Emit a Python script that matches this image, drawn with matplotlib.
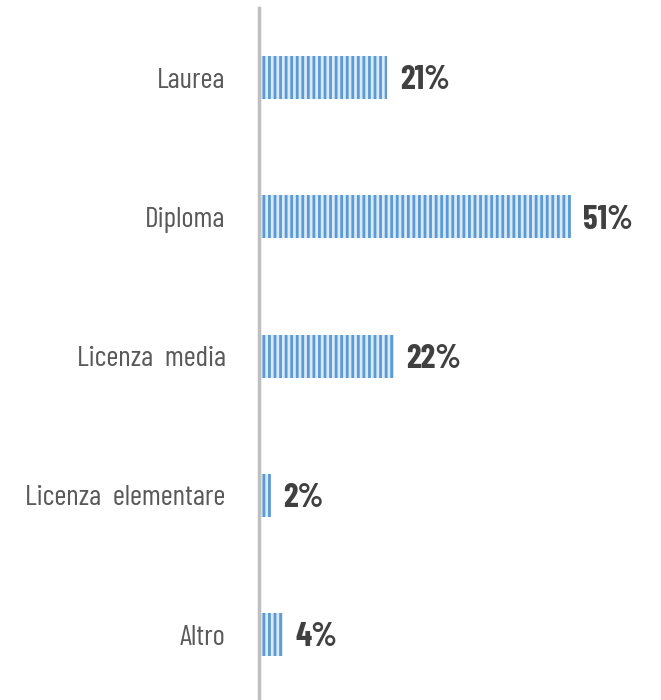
import matplotlib
matplotlib.use("Agg")
import matplotlib.pyplot as plt

categories = ["Laurea", "Diploma", "Licenza  media", "Licenza  elementare", "Altro"]
values = [21, 51, 22, 2, 4]

plt.rcParams['font.family'] = ['Barlow Condensed', 'Liberation Sans Narrow', 'DejaVu Sans']
plt.rcParams['hatch.linewidth'] = 2.0

fig = plt.figure(figsize=(6.61, 7), dpi=100)
ax = fig.add_axes([259 / 661, 0, 1 - 259 / 661, 1 - 8 / 700])

pos = list(range(len(categories)))
ax.barh(pos, values, height=0.31, color='#dbe9f6', edgecolor='#5b9bd5',
        linewidth=0, hatch='|||')

for p, v in zip(pos, values):
    ax.text(v + 2, p + 0.02, f"{v}%", va='center', ha='left', fontsize=24,
            fontweight='bold', color='#404040')

ax.set_xlim(0, 65.7)
ax.set_ylim(4.47, -0.5)
ax.set_yticks(pos)
ax.set_yticklabels(categories, fontsize=21, color='#595959')
ax.tick_params(axis='y', length=0, pad=24)
ax.set_xticks([])
for s in ['top', 'right', 'bottom']:
    ax.spines[s].set_visible(False)
ax.spines['left'].set_color('#bfbfbf')
ax.spines['left'].set_linewidth(2.5)

fig.savefig("out.png", dpi=100)
